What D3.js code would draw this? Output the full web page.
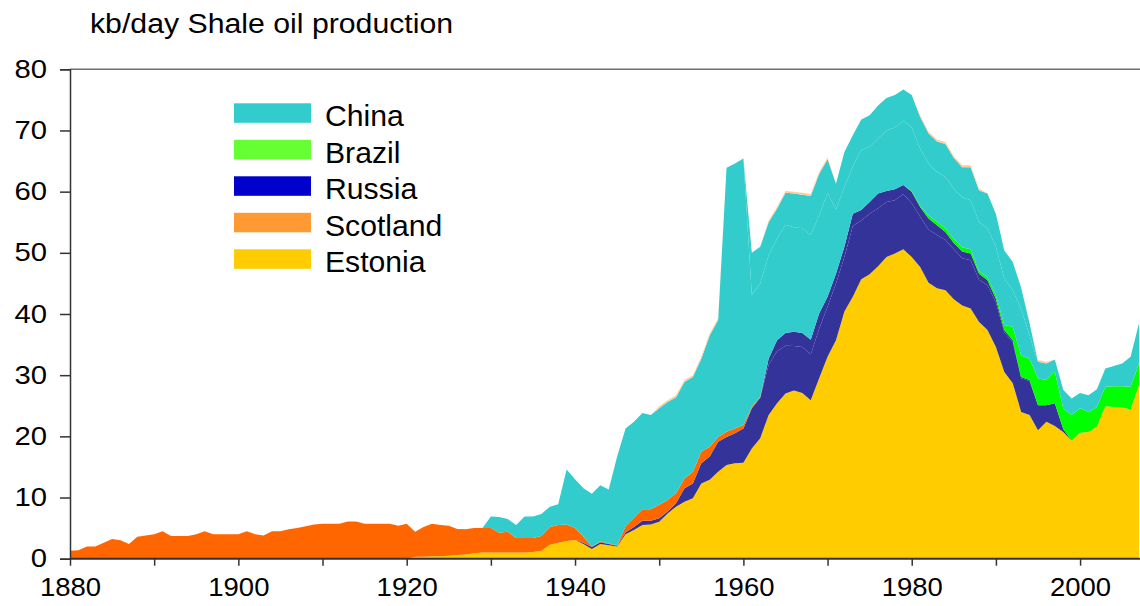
<!DOCTYPE html>
<html>
<head>
<meta charset="utf-8">
<script src="https://cdn.jsdelivr.net/npm/d3@7/dist/d3.min.js"></script>
<style>
  body { margin: 0; background: #fff; }
  svg { display: block; font-family: "Liberation Sans", Arial, sans-serif; }
</style>
</head>
<body>
<div id="chart"></div>
<script>
'use strict'

// years 1880..2007, one value per year
const years = d3.range(1880, 2008);

const estonia = [
    0, 0, 0, 0, 0, 0, 0, 0, 0, 0,
    0, 0, 0, 0, 0, 0, 0, 0, 0, 0,
    0, 0, 0, 0, 0, 0, 0, 0, 0, 0,
    0, 0, 0, 0, 0, 0, 0, 0, 0, 0,
    0, 0.3, 0.3, 0.4, 0.4, 0.5, 0.6, 0.7, 0.9, 1.0,
    1.0, 1.0, 1.0, 1.0, 1.0, 1.1, 1.3, 2.3, 2.6, 2.9,
    3.05, 2.4, 1.6, 2.4, 2.2, 2.0, 4.0, 4.7, 5.5, 5.6,
    6.05, 7.4, 8.5, 9.3, 9.9, 12.3, 12.9, 14.2, 15.3, 15.6,
    15.7, 18.0, 19.7, 23.5, 25.4, 27.0, 27.5, 27.1, 25.9, 29.5,
    33.0, 35.7, 40.4, 42.8, 45.7, 46.5, 47.8, 49.3, 49.9, 50.6,
    49.3, 47.7, 45.1, 44.2, 43.9, 42.4, 41.4, 40.9, 38.7, 37.4,
    34.6, 30.5, 28.7, 24.0, 23.5, 21.0, 22.4, 21.7, 20.7, 19.3,
    20.6, 20.7, 21.6, 24.9, 24.8, 24.7, 24.4, 28.4
];

const russia = [
    0, 0, 0, 0, 0, 0, 0, 0, 0, 0,
    0, 0, 0, 0, 0, 0, 0, 0, 0, 0,
    0, 0, 0, 0, 0, 0, 0, 0, 0, 0,
    0, 0, 0, 0, 0, 0, 0, 0, 0, 0,
    0, 0, 0, 0, 0, 0, 0, 0, 0, 0,
    0, 0, 0, 0, 0, 0, 0, 0, 0, 0,
    0, 0.2, 0.3, 0.3, 0.2, 0.1, 0.3, 0.5, 0.7, 0.6,
    0.55, 0.3, 0.55, 2.2, 2.4, 3.3, 3.8, 4.9, 4.6, 4.9,
    5.6, 6.6, 6.6, 8.2, 8.5, 7.8, 7.25, 7.5, 7.5, 8.1,
    8.2, 9.3, 8.9, 11.6, 9.6, 9.9, 9.5, 9.0, 8.7, 9.0,
    8.8, 8.2, 8.7, 8.7, 8.2, 8.2, 7.7, 7.9, 6.9, 7.3,
    7.3, 6.5, 6.7, 5.5, 5.5, 4.1, 2.7, 3.7, 0.5, 0,
    0, 0, 0, 0, 0, 0, 0, 0
];

// second Russian source, drawn in the same colour
const russiaUpper = [
    0, 0, 0, 0, 0, 0, 0, 0, 0, 0,
    0, 0, 0, 0, 0, 0, 0, 0, 0, 0,
    0, 0, 0, 0, 0, 0, 0, 0, 0, 0,
    0, 0, 0, 0, 0, 0, 0, 0, 0, 0,
    0, 0, 0, 0, 0, 0, 0, 0, 0, 0,
    0, 0, 0, 0, 0, 0, 0, 0, 0, 0,
    0, 0, 0, 0, 0, 0, 0, 0, 0, 0,
    0, 0, 0, 0, 0, 0, 0, 0, 0, 0,
    0, 0, 0, 1.0, 1.8, 2.1, 2.35, 2.3, 2.4, 2.5,
    1.6, 1.6, 1.7, 2.0, 1.7, 1.9, 2.4, 1.8, 1.8, 1.5,
    1.9, 1.6, 1.8, 1.6, 1.3, 1.0, 1.1, 1.1, 1.0, 0.8,
    0.6, 0.4, 0.3, 0.2, 0.2, 0, 0, 0, 0, 0,
    0, 0, 0, 0, 0, 0, 0, 0
];

const scotland = [
    1.3, 1.4, 2.0, 2.0, 2.6, 3.2, 3.0, 2.4, 3.6, 3.8,
    4.0, 4.5, 3.7, 3.7, 3.7, 4.0, 4.5, 4.0, 4.0, 4.0,
    4.0, 4.5, 4.0, 3.8, 4.5, 4.5, 4.8, 5.0, 5.3, 5.6,
    5.7, 5.7, 5.7, 6.1, 6.1, 5.7, 5.7, 5.7, 5.7, 5.4,
    5.7, 4.1, 4.9, 5.3, 5.1, 4.9, 4.25, 4.1, 4.1, 4.0,
    4.0, 3.25, 3.4, 2.4, 2.4, 2.3, 2.4, 2.9, 2.9, 2.7,
    1.95, 1.0, 0.1, 0.1, 0.1, 0.1, 1.0, 1.5, 1.9, 1.9,
    2.2, 1.9, 1.65, 1.6, 1.9, 1.9, 1.6, 0.8, 0.85, 0.8,
    0.55, 0.2, 0.2, 0, 0, 0, 0, 0, 0, 0,
    0, 0, 0, 0, 0, 0, 0, 0, 0, 0,
    0, 0, 0, 0, 0, 0, 0, 0, 0, 0,
    0, 0, 0, 0, 0, 0, 0, 0, 0, 0,
    0, 0, 0, 0, 0, 0, 0, 0
];

const brazil = [
    0, 0, 0, 0, 0, 0, 0, 0, 0, 0,
    0, 0, 0, 0, 0, 0, 0, 0, 0, 0,
    0, 0, 0, 0, 0, 0, 0, 0, 0, 0,
    0, 0, 0, 0, 0, 0, 0, 0, 0, 0,
    0, 0, 0, 0, 0, 0, 0, 0, 0, 0,
    0, 0, 0, 0, 0, 0, 0, 0, 0, 0,
    0, 0, 0, 0, 0, 0, 0, 0, 0, 0,
    0, 0, 0, 0, 0, 0, 0, 0, 0, 0,
    0, 0, 0, 0, 0, 0, 0, 0, 0, 0,
    0, 0, 0, 0, 0, 0, 0, 0, 0, 0,
    0.1, 0.2, 0.5, 0.6, 0.6, 0.7, 0.7, 0.7, 0.4, 0.5,
    0.55, 0.8, 2.2, 3.5, 3.5, 4.4, 4.1, 5.2, 3.4, 4.2,
    4.0, 3.3, 3.2, 3.2, 3.4, 3.5, 3.7, 3.5
];

const china = [
    0, 0, 0, 0, 0, 0, 0, 0, 0, 0,
    0, 0, 0, 0, 0, 0, 0, 0, 0, 0,
    0, 0, 0, 0, 0, 0, 0, 0, 0, 0,
    0, 0, 0, 0, 0, 0, 0, 0, 0, 0,
    0, 0, 0, 0, 0, 0, 0, 0, 0, 0,
    1.9, 2.55, 2.1, 2.1, 3.5, 3.5, 3.6, 3.3, 3.4, 9.0,
    8.0, 7.9, 8.6, 9.2, 8.8, 14.5, 16.0, 15.7, 15.7, 15.4,
    15.8, 16.0, 15.7, 15.8, 15.5, 15.2, 18.2, 19.1, 43.15, 43.3,
    43.55, 18.3, 18.5, 16.9, 16.6, 17.7, 17.1, 17.1, 17.1, 16.0,
    17.0, 10.5, 9.8, 7.7, 9.8, 9.0, 9.0, 9.9, 10.1, 10.5,
    10.4, 9.3, 8.5, 8.1, 8.4, 8.2, 8.2, 8.0, 8.0, 8.0,
    7.9, 7.6, 6.0, 7.6, 3.8, 2.7, 2.7, 1.95, 3.0, 2.7,
    2.5, 2.7, 2.9, 3.0, 3.3, 3.7, 4.9, 6.6
];

// second Chinese source, drawn in the same colour
const chinaUpper = [
    0, 0, 0, 0, 0, 0, 0, 0, 0, 0,
    0, 0, 0, 0, 0, 0, 0, 0, 0, 0,
    0, 0, 0, 0, 0, 0, 0, 0, 0, 0,
    0, 0, 0, 0, 0, 0, 0, 0, 0, 0,
    0, 0, 0, 0, 0, 0, 0, 0, 0, 0,
    0, 0, 0, 0, 0, 0, 0, 0, 0, 0,
    0, 0, 0, 0, 0, 0, 0, 0, 0, 0,
    0, 0, 0, 0, 0, 0, 0, 0, 0, 0,
    0, 6.9, 6.0, 5.4, 4.9, 5.2, 5.5, 5.5, 6.4, 6.8,
    5.5, 4.2, 5.7, 5.1, 5.0, 5.2, 5.4, 5.3, 5.3, 5.1,
    5.3, 5.2, 4.9, 5.0, 5.4, 5.0, 4.9, 5.4, 5.2, 5.7,
    5.4, 4.6, 4.6, 3.5, 2.0, 0, 0, 0, 0, 0,
    0, 0, 0, 0, 0, 0, 0, 0
];

// thin unlabeled sliver on top
const other = [
    0, 0, 0, 0, 0, 0, 0, 0, 0, 0,
    0, 0, 0, 0, 0, 0, 0, 0, 0, 0,
    0, 0, 0, 0, 0, 0, 0, 0, 0, 0,
    0, 0, 0, 0, 0, 0, 0, 0, 0, 0,
    0, 0, 0, 0, 0, 0, 0, 0, 0, 0,
    0, 0, 0, 0, 0, 0, 0, 0, 0, 0,
    0, 0, 0, 0, 0, 0, 0, 0, 0, 0,
    0.3, 0.3, 0.3, 0.3, 0.3, 0.3, 0.3, 0.3, 0, 0,
    0, 0, 0, 0.3, 0.3, 0.3, 0.3, 0.3, 0.3, 0.3,
    0.3, 0, 0, 0, 0, 0, 0, 0, 0, 0,
    0, 0.3, 0.3, 0.3, 0.3, 0.3, 0.3, 0.3, 0.3, 0,
    0, 0, 0, 0, 0, 0.3, 0.3, 0, 0, 0,
    0, 0, 0, 0, 0, 0, 0, 0
];

const yTicks = [0, 10, 20, 30, 40, 50, 60, 70, 80];
const xLabelYears = [1880, 1900, 1920, 1940, 1960, 1980, 2000];
const xTickYears = [1880, 1890, 1900, 1910, 1920, 1930, 1940, 1950, 1960, 1970, 1980, 1990, 2000];

const legendNames = ["China", "Brazil", "Russia", "Scotland", "Estonia"];
const legendColors = ["#33cccc", "#66ff33", "#0000cc", "#ff9933", "#ffcc00"];

// the original lettering is a little wider than Liberation Sans
function widen(selection, factor) {
    selection.each(function () {
        const w = this.getComputedTextLength();
        d3.select(this)
            .attr("textLength", w * factor)
            .attr("lengthAdjust", "spacingAndGlyphs");
    });
}

document.addEventListener('DOMContentLoaded', function () {
    const width = 1140;
    const height = 606;

    const keys = ["estonia", "russia", "russiaUpper", "scotland", "brazil", "china", "chinaUpper", "other"];
    const fills = {
        estonia: "#ffcc00", russia: "#333399", russiaUpper: "#333399", scotland: "#ff6600",
        brazil: "#00ff00", china: "#33cccc", chinaUpper: "#33cccc", other: "#ffcc99"
    };
    const source = { estonia, russia, russiaUpper, scotland, brazil, china, chinaUpper, other };

    const table = years.map((yr, i) => {
        const row = { year: yr };
        keys.forEach(k => { row[k] = source[k][i]; });
        return row;
    });

    const stacked = d3.stack().keys(keys)(table);

    const svg = d3.select("#chart")
        .append("svg")
        .attr("width", width)
        .attr("height", height);

    const x = d3.scaleLinear()
        .domain([1880, 2007])
        .range([70, 1139]);

    const y = d3.scaleLinear()
        .domain([0, 80])
        .range([558.7, 69.3]);

    const area = d3.area()
        .x(d => x(d.data.year))
        .y0(d => y(d[0]))
        .y1(d => y(d[1]));

    svg.append("g")
        .selectAll("path")
        .data(stacked)
        .enter().append("path")
        .attr("d", area)
        .attr("fill", d => fills[d.key]);

    // top frame line
    svg.append("line")
        .attr("x1", x(1880)).attr("x2", width)
        .attr("y1", y(80)).attr("y2", y(80))
        .attr("stroke", "#6e6e6e")
        .attr("stroke-width", 1.5);

    // Y axis
    const yAxis = svg.append("g")
        .attr("transform", `translate(${x(1880)},0)`)
        .call(d3.axisLeft(y).tickValues(yTicks).tickSize(10).tickPadding(13).tickFormat(d3.format("d")));
    yAxis.select(".domain").attr("stroke", "#333").attr("stroke-width", 1.5);
    yAxis.selectAll(".tick line").attr("stroke", "#333").attr("stroke-width", 1.5);
    yAxis.selectAll("text")
        .style("font-family", "'Liberation Sans', Arial, sans-serif")
        .style("font-size", "25px")
        .attr("fill", "#000")
        .call(widen, 1.17);

    // X axis
    const xAxis = svg.append("g")
        .attr("transform", `translate(0,${y(0)})`)
        .call(d3.axisBottom(x).tickValues(xTickYears).tickSize(7).tickFormat(d => xLabelYears.includes(d) ? d : ""));
    xAxis.select(".domain").attr("stroke", "#333").attr("stroke-width", 2).attr("d", `M${x(1880)},0H${width}`);
    xAxis.selectAll(".tick line").attr("stroke", "#333").attr("stroke-width", 1.5);
    xAxis.selectAll("text")
        .attr("y", 20)
        .attr("dy", "0.71em")
        .style("font-family", "'Liberation Sans', Arial, sans-serif")
        .style("font-size", "25px")
        .attr("fill", "#000")
        .call(widen, 1.1);

    // Title
    svg.append("text")
        .attr("x", 90)
        .attr("y", 33)
        .style("font-size", "27px")
        .attr("fill", "#000")
        .text("kb/day Shale oil production")
        .call(widen, 1.12);

    // Legend
    const legend = svg.selectAll(".legend")
        .data(legendNames)
        .enter().append("g")
        .attr("class", "legend")
        .attr("transform", (d, i) => `translate(234,${103.3 + i * 36.5})`);

    legend.append("rect")
        .attr("width", 77)
        .attr("height", 19.5)
        .style("fill", (d, i) => legendColors[i]);

    legend.append("text")
        .attr("x", 91)
        .attr("y", 22.7)
        .style("font-size", "29px")
        .attr("fill", "#000")
        .text(d => d)
        .call(widen, 1.04);
});
</script>
</body>
</html>
